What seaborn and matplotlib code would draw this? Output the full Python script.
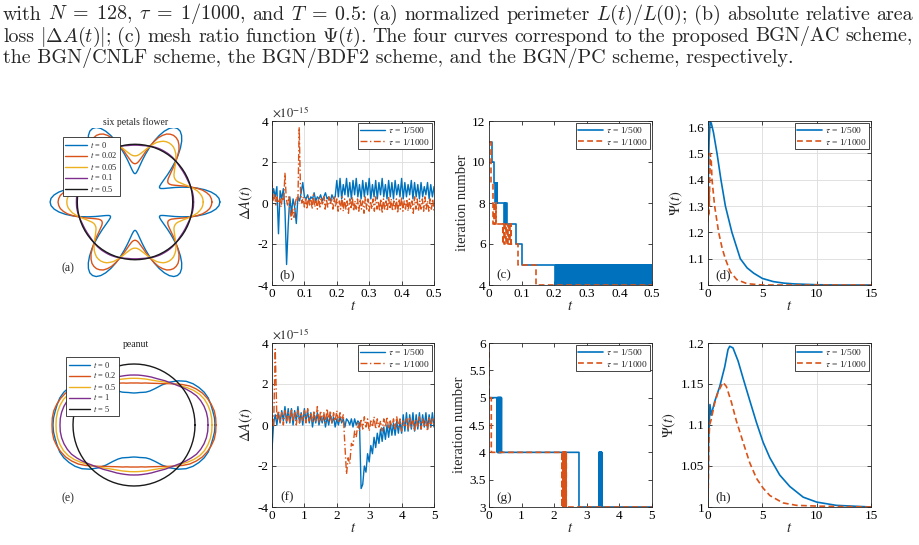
import numpy as np
import matplotlib
matplotlib.use('Agg')
import matplotlib.pyplot as plt
import seaborn as sns

# ---------------------------------------------------------------- colours
BLUE, ORANGE, YELLOW, PURPLE, BLACK = '#0072BD', '#D95319', '#EDB120', '#7E2F8E', '#1a1a1a'
AXC = '#262626'

# ---------------------------------------------------------------- caption
caption_lines = [
    r"with $N\;=\;128$, $\tau\;=\;1/1000$, and $T\;=\;0.5$: (a) normalized perimeter $L(t)/L(0)$; (b) absolute relative area",
    r"loss $|\mathit{\Delta A}(t)|$; (c) mesh ratio function $\mathit{\Psi}(t)$. The four curves correspond to the proposed BGN/AC scheme,",
    r"the BGN/CNLF scheme, the BGN/BDF2 scheme, and the BGN/PC scheme, respectively.",
]

# ---------------------------------------------------------------- (a) six petals flower, half petal (0..30 deg) of radii
flower_times = ['0', '0.02', '0.05', '0.1', '0.5']
flower_angles_deg = [0, 2.5, 5, 7.5, 10, 12.5, 15, 17.5, 20, 22.5, 25, 27.5, 30]
flower_r_t0 = [3.0, 2.97, 2.87, 2.71, 2.5, 2.26, 2.0, 1.74, 1.5, 1.29, 1.13, 1.03, 1.0]
flower_r_t002 = [2.72, 2.70, 2.65, 2.55, 2.42, 2.24, 2.05, 1.86, 1.68, 1.54, 1.43, 1.37, 1.35]
flower_r_t005 = [2.41, 2.40, 2.37, 2.31, 2.24, 2.14, 2.03, 1.93, 1.83, 1.75, 1.68, 1.64, 1.63]
flower_r_t01 = [2.07, 2.07, 2.07, 2.065, 2.06, 2.05, 2.04, 2.03, 2.02, 2.015, 2.01, 2.01, 2.01]
flower_r_t05 = [2.04, 2.04, 2.04, 2.04, 2.04, 2.04, 2.04, 2.04, 2.04, 2.04, 2.04, 2.04, 2.04]

# ---------------------------------------------------------------- (e) peanut, one quadrant of radii
peanut_times = ['0', '0.2', '0.5', '1', '5']
peanut_angles_deg = [0, 5, 10, 15, 20, 25, 30, 35, 40, 45, 50, 55, 60, 65, 70, 75, 80, 85, 90]
peanut_r_t0 = [81, 80.8, 80, 79.5, 79, 77.5, 75, 72, 68, 62.5, 56, 49, 42, 37.5, 35, 33.8, 33, 32.3, 32]
peanut_r_t02 = [82, 82, 81.5, 80, 78, 75.5, 72, 68, 63, 58, 54, 50.5, 48, 46, 44.5, 43.5, 42.5, 42.2, 42]
peanut_r_t05 = [78, 78, 77.5, 76.5, 75, 72.5, 69, 65, 61, 58, 55, 52.5, 50.5, 49, 48, 47.5, 47, 46.8, 46.7]
peanut_r_t1 = [74, 74, 73.5, 72.5, 71, 69, 66, 63, 60, 57.5, 55.5, 54, 52.5, 51.5, 51, 50.5, 50.2, 50.1, 50]
peanut_r_t5 = [61] * 19

# ---------------------------------------------------------------- (b) area loss, units of 1e-15, t in [0, 0.5]
b_dA_500 = [0.2, 0.7, 0.3, 0.8, -1.5, 0.6, 0.2, 0.7, -0.3, -3.0,
            -1.1, 0.3, -0.5, 0.2, -0.2, -1.0, 0.3, 0.1, 0.5, 1.0,
            0.3, 0.2, 0.4, 0.1, 0.3, 0.2, 0.5, 0.1, 0.3, 0.2,
            0.4, 0.1, 0.3, 0.5, 0.2, 0.3, 0.1, 0.4, 0.2, 0.3,
            1.1, 0.3, 1.2, 0.2, 0.9, 0.4, 1.2, 0.3, 1.0, 0.2,
            1.1, 0.4, 1.2, 0.3, 0.9, 0.2, 1.1, 0.3, 1.0, 0.4,
            1.2, 0.2, 0.9, 0.3, 1.1, 0.2, 1.0, 0.4, 1.2, 0.3,
            0.9, 0.2, 1.1, 0.3, 1.0, 0.2, 1.1, 0.4, 0.9, 0.3,
            1.2, 0.2, 1.0, 0.3, 0.9, 0.4, 1.1, 0.2, 1.0, 0.3,
            0.9, 0.2, 1.0, 0.3, 0.8, 0.4, 1.0, 0.2, 0.9, 0.3,
            0.8]
b_dA_1000 = [1.1, 0.1, 0.4, -0.1, 0.3, 0.0, 0.2, -0.2, 0.3, 0.1,
             1.45, 0.2, -0.1, 0.3, -0.4, -0.8, -0.3, -0.7, 0.0, 0.3,
             0.1, 3.7, 0.6, 0.0,
             0.3, -0.2, 0.2, -0.3, 0.3, -0.1, 0.2, -0.3, 0.4, -0.2,
             0.1, -0.3, 0.3, -0.2, 0.2, -0.1, 0.3, -0.3, 0.2, -0.2,
             0.3, -0.1, 0.2, -0.3, 0.3, -0.2,
             0.2, -0.4, 0.1, -0.3, 0.3, -0.4, 0.2, -0.3, 0.1, -0.5,
             0.2, -0.3, 0.3, -0.4, 0.1, -0.3, 0.2, -0.4, 0.2, -0.3,
             0.1, -0.5, 0.3, -0.3, 0.2, -0.4, 0.1, -0.3, 0.2, -0.4,
             0.3, -0.3, 0.1, -0.4, 0.2, -0.5, 0.2, -0.3, 0.1, -0.4,
             0.3, -0.3, 0.2, -0.4, 0.1, -0.3, 0.2, -0.5, 0.2, -0.3,
             0.3, -0.4, 0.1, -0.3, 0.2, -0.4, 0.2, -0.3, 0.1, -0.5,
             0.3, -0.3, 0.2, -0.4, 0.1, -0.3, 0.2, -0.4, 0.3, -0.3,
             0.1, -0.4, 0.2, -0.3, 0.2, -0.4]

# ---------------------------------------------------------------- (f) area loss, units of 1e-15, t in [0, 5]
f_dA_500 = [-1.2, 0.1, 0.5, 0.0, 0.6, 0.1, 0.7, 0.2, 0.9, 0.1, 0.8,
            0.1, 0.8, 0.0, 0.7, 0.2, 0.9, 0.1, 0.6, 0.0, 0.8,
            0.2, 0.7, 0.1, 0.6, -0.1, 0.5, 0.1, 0.6, 0.0, 0.4,
            0.1, 0.5, -0.1, 0.4, 0.0, 0.5, 0.1, 0.4, -0.1, 0.3,
            0.0, 0.4, 0.1, 0.3, -0.1, 0.3,
            0.2, 0.0, 0.3, -0.1, 0.3, 0.0, 0.2, 0.1,
            -3.1,
            -2.9, -2.0, -2.3, -1.4, -1.8, -1.0, -1.4, -0.6, -1.1, -0.4,
            -0.9, -0.2, -0.8, -0.1, -0.7, 0.0, -0.6, 0.1, -0.5, 0.1,
            -0.5, 0.2, -0.4, 0.2, -0.4, 0.5, -0.3, 0.6, -0.3, 0.5,
            -0.2, 0.6, -0.3, 0.5, -0.2, 0.6, -0.2, 0.5, -0.1, 0.6,
            -0.2, 0.5, -0.1, 0.6, -0.1]
f_dA_1000 = [0.5, -0.1, 3.7, 0.3,
             0.7, 0.1, 0.6, 0.0, 0.7, 0.2, 0.6, 0.1, 0.8, 0.2,
             0.6, 0.0, 0.7, 0.1, 0.6, 0.2, 0.7, 0.1, 0.8, 0.2,
             0.6, 0.1, 0.7, 0.2, 0.9, 0.1, 0.7, 0.2, 0.6, 0.1,
             0.8, 0.2, 0.7, 0.1, 0.6, 0.2, 0.7, 0.1, 0.6, 0.2, 0.5,
             -1.0, -2.4, -1.6, -1.9, -0.9, -1.0, -0.3, -0.6, 0.1, -0.3,
             0.3, -0.2, 0.4, -0.1, 0.3, -0.3, 0.2, -0.1, 0.4, -0.2,
             0.3, -0.1, 0.2, -0.3, 0.3, -0.1, 0.4, -0.2, 0.2, -0.1,
             0.3, -0.2, 0.4, -0.1, 0.3, -0.3, 0.2, -0.1, 0.3, -0.2,
             0.4, -0.1, 0.2, -0.3, 0.3, -0.1, 0.4, -0.2, 0.3, -0.1,
             0.2, -0.3, 0.4, -0.1, 0.3, 0.0]

# ---------------------------------------------------------------- (c), (g) iteration number per time step
c_dt_500, c_dt_1000 = 0.002, 0.001
c_iter_500 = ([11] * 5 + [10] * 2 + [9] * 2 + [8, 9] * 2 + [8] * 10 + [7, 8] * 2 + [7] * 15
              + [6] * 9 + [5] * 50 + [4] * 2 + [5, 4] * 74)
c_iter_1000 = ([11] * 5 + [10] * 2 + [9] * 4 + [8] * 2 + [7, 8] * 5 + [7] * 20 + [6, 7] * 12
               + [6] * 23 + [5] * 53 + [4] * 358)
g_iter_500 = [5] * 130 + [4, 5] * 30 + [4] * 1190 + [3] * 310 + [4, 3] * 20 + [3] * 771
g_iter_1000 = [6] * 2 + [5] * 68 + [4] * 2180 + [3, 4] * 60 + [3] * 2631

# ---------------------------------------------------------------- (d), (h) mesh ratio
d_t_500 = [0, 0.05, 0.1, 0.2, 0.3, 0.5, 0.83, 1.19, 1.6, 2.2, 2.97, 3.6, 4.2, 5, 6, 7, 8, 10, 12, 15]
d_psi_500 = [1.30, 1.45, 1.55, 1.62, 1.615, 1.58, 1.5, 1.4, 1.3, 1.2, 1.1, 1.065, 1.045, 1.025,
             1.013, 1.007, 1.004, 1.001, 1.0, 1.0]
d_t_1000 = [0, 0.03, 0.06, 0.09, 0.12, 0.2, 0.3, 0.37, 0.61, 0.98, 1.3, 1.59, 2.05, 2.66, 3.6, 5, 8, 15]
d_psi_1000 = [1.24, 1.37, 1.26, 1.36, 1.30, 1.5, 1.47, 1.4, 1.3, 1.2, 1.14, 1.1, 1.05, 1.02, 1.005,
              1.0, 1.0, 1.0]
h_t_500 = [0, 0.05, 0.18, 0.3, 0.6, 1.08, 1.54, 1.84, 2.0, 2.3, 2.77, 3.23, 3.84, 4.46, 5.07, 5.69,
           6.6, 7.53, 8.76, 10, 11.8, 15]
h_psi_500 = [1.0, 1.08, 1.125, 1.112, 1.128, 1.147, 1.171, 1.192, 1.196, 1.194, 1.178, 1.157, 1.13,
             1.103, 1.079, 1.06, 1.039, 1.025, 1.012, 1.006, 1.002, 1.0]
h_t_1000 = [0, 0.08, 0.15, 0.3, 0.6, 0.92, 1.38, 1.69, 2.15, 2.61, 3.23, 3.84, 4.46, 5.07, 5.69, 6.9,
            8.15, 10.3, 15]
h_psi_1000 = [1.0, 1.08, 1.1, 1.107, 1.126, 1.14, 1.152, 1.147, 1.128, 1.105, 1.079, 1.054, 1.035,
              1.023, 1.014, 1.005, 1.002, 1.001, 1.0]

tau_labels = [r'$\tau$ = 1/500', r'$\tau$ = 1/1000']

# ---------------------------------------------------------------- style
sns.set_style('ticks')
plt.rcParams.update({
    'font.family': ['Liberation Serif', 'DejaVu Serif'],
    'mathtext.fontset': 'stix',
    'axes.unicode_minus': False,
    'axes.edgecolor': AXC,
    'axes.linewidth': 0.6,
    'xtick.color': AXC, 'ytick.color': AXC,
    'xtick.labelcolor': 'black', 'ytick.labelcolor': 'black',
})

W, H = 920, 545
fig = plt.figure(figsize=(W / 100, H / 100), dpi=100)
renderer = fig.canvas.get_renderer()


def px_axes(x0, y0, x1, y1):
    return fig.add_axes([x0 / W, 1 - y1 / H, (x1 - x0) / W, (y1 - y0) / H])


def split_words(line):
    words, cur, in_math = [], '', False
    for ch in line:
        if ch == '$':
            in_math = not in_math
        if ch == ' ' and not in_math:
            words.append(cur)
            cur = ''
        else:
            cur += ch
    words.append(cur)
    return words


DASH = (0, (3.5, 2))
DASHDOT = (0, (5, 1.8, 1, 1.8))

# caption: first two lines justified between the margins, last line left aligned
CAP_KW = dict(fontsize=14.4, family='cmr10', math_fontfamily='cm', va='baseline', ha='left')
left_px, right_px = 3, 913
for i, line in enumerate(caption_lines):
    yb = 1 - (19.5 + 22 * i) / H
    if i == len(caption_lines) - 1:
        fig.text(left_px / W, yb, line, **CAP_KW)
        continue
    words = split_words(line)
    texts = [fig.text(0, yb, w, **CAP_KW) for w in words]
    widths = [t.get_window_extent(renderer).width for t in texts]
    gap = (right_px - left_px - sum(widths)) / (len(words) - 1)
    x = left_px
    for t, w in zip(texts, widths):
        t.set_x(x / W)
        x += w + gap


def shape_panel(box, title, times, xs_list, ys_list, colors, center, sc, tag, leg_xy):
    ax = px_axes(*box)
    for tt, xs, ys, c in zip(times, xs_list, ys_list, colors):
        sns.lineplot(x=xs, y=ys, sort=False, estimator=None, color=c, lw=1.0,
                     label=r'$t$ = %s' % tt, ax=ax)
    x0, y0, x1, y1 = box
    cx, cy = center
    ax.set_xlim((x0 - cx) / sc, (x1 - cx) / sc)
    ax.set_ylim(-(y1 - cy) / sc, (cy - y0) / sc)
    ax.axis('off')
    ax.set_title(title, fontsize=7, pad=2)
    ax.text((68 - x0) / (x1 - x0), 1 - (tag[1] - y0) / (y1 - y0), tag[0], transform=ax.transAxes,
            fontsize=8.5, ha='center', va='center')
    leg = ax.legend(loc='upper left', bbox_to_anchor=(leg_xy[0] / W, 1 - leg_xy[1] / H),
                    bbox_transform=fig.transFigure, borderaxespad=0, fontsize=6,
                    frameon=True, fancybox=False, framealpha=1, edgecolor=AXC,
                    handlelength=2.6, handletextpad=0.3, labelspacing=0.12, borderpad=0.3)
    leg.get_frame().set_linewidth(0.6)
    return ax


# (a) flower: mirror the half petal, then repeat it six times
half = np.deg2rad(flower_angles_deg)
sector = np.concatenate([half, np.pi / 3 - half[::-1][1:-1]])
full_ang = np.concatenate([sector + k * np.pi / 3 for k in range(6)] + [sector[:1]])
fx, fy = [], []
for r in [flower_r_t0, flower_r_t002, flower_r_t005, flower_r_t01, flower_r_t05]:
    r = np.asarray(r, float)
    rs = np.concatenate([r, r[::-1][1:-1]])
    rr = np.concatenate([np.tile(rs, 6), rs[:1]])
    fx.append(rr * np.cos(full_ang))
    fy.append(rr * np.sin(full_ang))
shape_panel((40, 128, 232, 285), 'six petals flower', flower_times, fx, fy,
            [BLUE, ORANGE, YELLOW, PURPLE, BLACK], (135, 202), 28.3, ('(a)', 268), (63, 137))

# (e) peanut: mirror the quadrant into the other three
q = np.deg2rad(peanut_angles_deg)
p_ang = np.concatenate([q, np.pi - q[::-1][1:], np.pi + q[1:], 2 * np.pi - q[::-1][1:]])
px_, py_ = [], []
for r in [peanut_r_t0, peanut_r_t02, peanut_r_t05, peanut_r_t1, peanut_r_t5]:
    r = np.asarray(r, float)
    rr = np.concatenate([r, r[::-1][1:], r[1:], r[::-1][1:]])
    px_.append(rr * np.cos(p_ang))
    py_.append(rr * np.sin(p_ang))
shape_panel((40, 350, 232, 507), 'peanut', peanut_times, px_, py_,
            [BLUE, ORANGE, YELLOW, PURPLE, BLACK], (134, 425), 1.0, ('(e)', 498), (66, 357))


def finish(ax, xlim, xticks, xlabels, ylim, yticks, ylabels, ylabel, tag, dash, grid):
    ax.set_xlim(*xlim)
    ax.set_ylim(*ylim)
    ax.set_xticks(xticks)
    ax.set_xticklabels(xlabels)
    ax.set_yticks(yticks)
    ax.set_yticklabels(ylabels)
    ax.tick_params(direction='in', top=True, right=True, length=3, width=0.6, labelsize=9.5, pad=2.5)
    for s in ax.spines.values():
        s.set_visible(True)
    if grid:
        ax.grid(True, color='#dcdcdc', lw=0.6)
        ax.set_axisbelow(True)
    ax.set_xlabel(r'$t$', fontsize=10.5, labelpad=0)
    ax.set_ylabel(ylabel, fontsize=10.5, labelpad=2)
    ax.text(0.093, 0.057, tag, transform=ax.transAxes, fontsize=9.5, ha='center', va='center')
    leg = ax.legend(loc='upper right', fontsize=6.8, frameon=True, fancybox=False, framealpha=1,
                    edgecolor=AXC, handlelength=2.6, handletextpad=0.3, labelspacing=0.12,
                    borderpad=0.22, borderaxespad=0.25)
    leg.get_frame().set_linewidth(0.6)
    leg.get_lines()[1].set_linestyle(dash)


cols_x = [(272, 434), (489, 652), (708, 871)]
rows_y = [(121, 285), (343, 507)]

# (b)
ax = px_axes(cols_x[0][0], rows_y[0][0], cols_x[0][1], rows_y[0][1])
sns.lineplot(x=np.linspace(0, 0.5, len(b_dA_500)), y=b_dA_500, estimator=None, color=BLUE, lw=1.0,
             label=tau_labels[0], ax=ax)
sns.lineplot(x=np.linspace(0, 0.5, len(b_dA_1000)), y=b_dA_1000, estimator=None, color=ORANGE, lw=1.0,
             linestyle=DASHDOT, label=tau_labels[1], ax=ax)
finish(ax, (0, 0.5), [0, 0.1, 0.2, 0.3, 0.4, 0.5], ['0', '0.1', '0.2', '0.3', '0.4', '0.5'],
       (-4, 4), [-4, -2, 0, 2, 4], ['-4', '-2', '0', '2', '4'], r'$\Delta A(t)$', '(b)', DASHDOT, True)
ax.text(0.0, 1.005, r'$\times10^{-15}$', transform=ax.transAxes, fontsize=9, ha='left', va='bottom')

# (f)
ax = px_axes(cols_x[0][0], rows_y[1][0], cols_x[0][1], rows_y[1][1])
sns.lineplot(x=np.linspace(0, 5, len(f_dA_500)), y=f_dA_500, estimator=None, color=BLUE, lw=1.0,
             label=tau_labels[0], ax=ax)
sns.lineplot(x=np.linspace(0, 5, len(f_dA_1000)), y=f_dA_1000, estimator=None, color=ORANGE, lw=1.0,
             linestyle=DASHDOT, label=tau_labels[1], ax=ax)
finish(ax, (0, 5), [0, 1, 2, 3, 4, 5], ['0', '1', '2', '3', '4', '5'],
       (-4, 4), [-4, -2, 0, 2, 4], ['-4', '-2', '0', '2', '4'], r'$\Delta A(t)$', '(f)', DASHDOT, True)
ax.text(0.0, 1.005, r'$\times10^{-15}$', transform=ax.transAxes, fontsize=9, ha='left', va='bottom')

# (c)
ax = px_axes(cols_x[1][0], rows_y[0][0], cols_x[1][1], rows_y[0][1])
sns.lineplot(x=np.arange(len(c_iter_500)) * c_dt_500, y=c_iter_500, estimator=None, color=BLUE, lw=1.2,
             drawstyle='steps-post', label=tau_labels[0], ax=ax)
sns.lineplot(x=np.arange(len(c_iter_1000)) * c_dt_1000, y=c_iter_1000, estimator=None, color=ORANGE,
             lw=1.2, linestyle=DASH, drawstyle='steps-post', label=tau_labels[1], ax=ax)
finish(ax, (0, 0.5), [0, 0.1, 0.2, 0.3, 0.4, 0.5], ['0', '0.1', '0.2', '0.3', '0.4', '0.5'],
       (4, 12), [4, 6, 8, 10, 12], ['4', '6', '8', '10', '12'], 'iteration number', '(c)', DASH, False)

# (g)
ax = px_axes(cols_x[1][0], rows_y[1][0], cols_x[1][1], rows_y[1][1])
sns.lineplot(x=np.arange(len(g_iter_500)) * c_dt_500, y=g_iter_500, estimator=None, color=BLUE, lw=1.2,
             drawstyle='steps-post', label=tau_labels[0], ax=ax)
sns.lineplot(x=np.arange(len(g_iter_1000)) * c_dt_1000, y=g_iter_1000, estimator=None, color=ORANGE,
             lw=1.2, linestyle=DASH, drawstyle='steps-post', label=tau_labels[1], ax=ax)
finish(ax, (0, 5), [0, 1, 2, 3, 4, 5], ['0', '1', '2', '3', '4', '5'],
       (3, 6), [3, 3.5, 4, 4.5, 5, 5.5, 6], ['3', '3.5', '4', '4.5', '5', '5.5', '6'],
       'iteration number', '(g)', DASH, False)

# (d)
ax = px_axes(cols_x[2][0], rows_y[0][0], cols_x[2][1], rows_y[0][1])
sns.lineplot(x=d_t_500, y=d_psi_500, estimator=None, sort=False, color=BLUE, lw=1.2,
             label=tau_labels[0], ax=ax)
sns.lineplot(x=d_t_1000, y=d_psi_1000, estimator=None, sort=False, color=ORANGE, lw=1.2,
             linestyle=DASH, label=tau_labels[1], ax=ax)
finish(ax, (0, 15), [0, 5, 10, 15], ['0', '5', '10', '15'],
       (1, 1.623), [1, 1.1, 1.2, 1.3, 1.4, 1.5, 1.6], ['1', '1.1', '1.2', '1.3', '1.4', '1.5', '1.6'],
       r'$\Psi(t)$', '(d)', DASH, True)

# (h)
ax = px_axes(cols_x[2][0], rows_y[1][0], cols_x[2][1], rows_y[1][1])
sns.lineplot(x=h_t_500, y=h_psi_500, estimator=None, sort=False, color=BLUE, lw=1.2,
             label=tau_labels[0], ax=ax)
sns.lineplot(x=h_t_1000, y=h_psi_1000, estimator=None, sort=False, color=ORANGE, lw=1.2,
             linestyle=DASH, label=tau_labels[1], ax=ax)
finish(ax, (0, 15), [0, 5, 10, 15], ['0', '5', '10', '15'],
       (1, 1.2), [1, 1.05, 1.1, 1.15, 1.2], ['1', '1.05', '1.1', '1.15', '1.2'],
       r'$\Psi(t)$', '(h)', DASH, True)

fig.savefig('out.png', dpi=100)
